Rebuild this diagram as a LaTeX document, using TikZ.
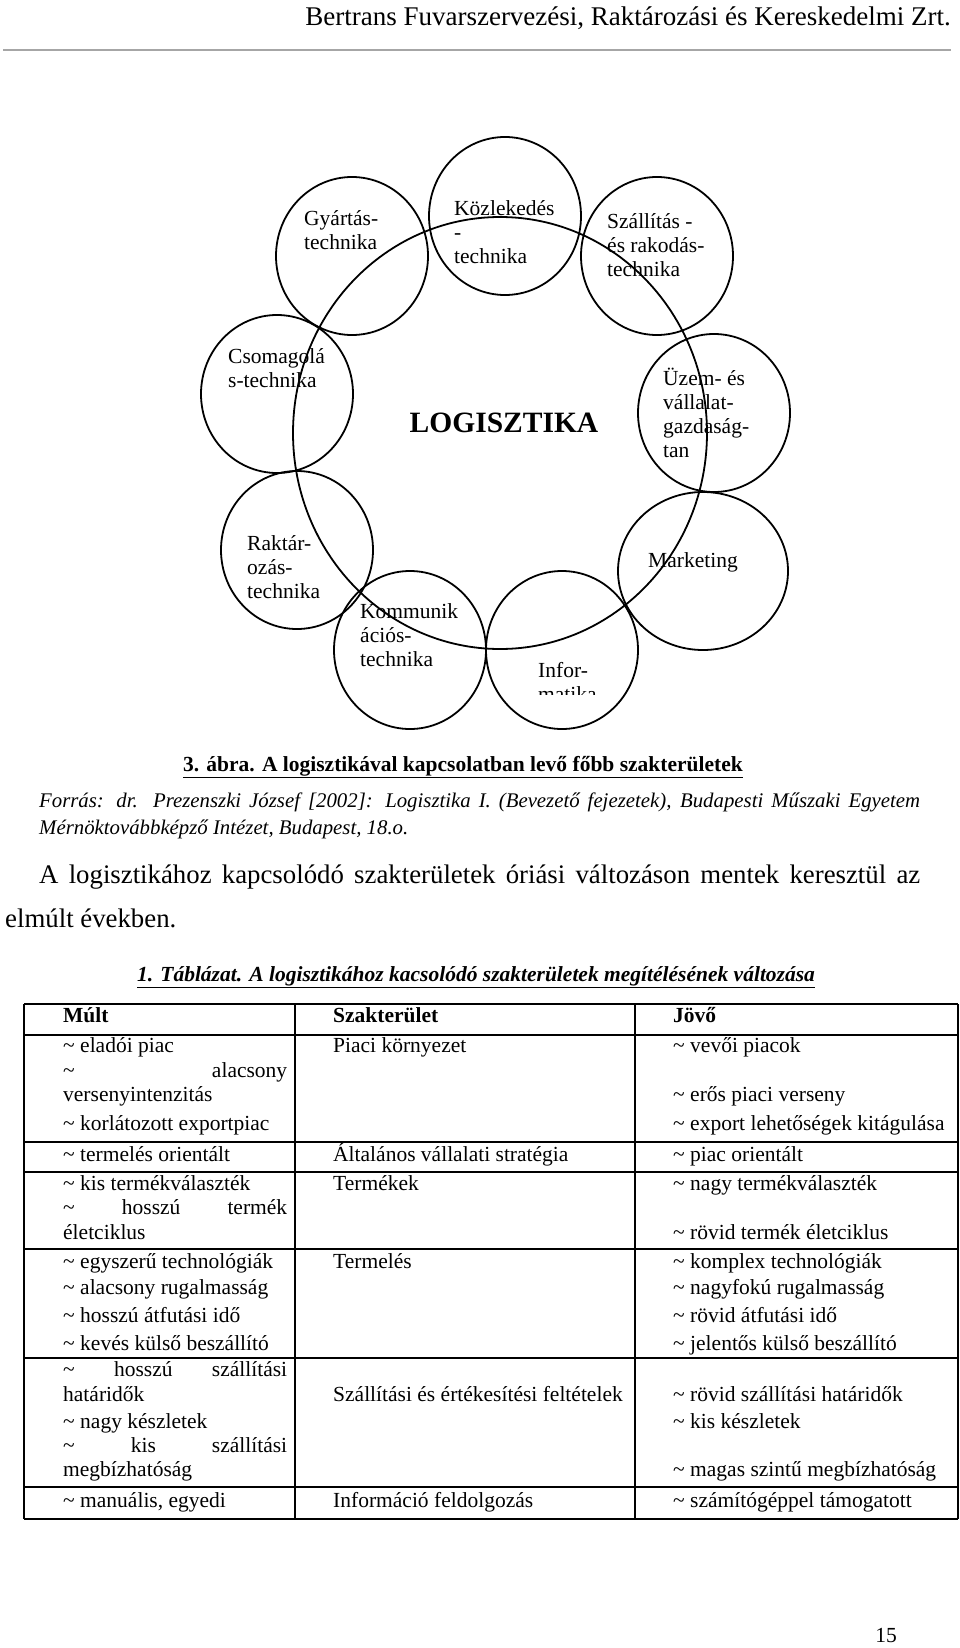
\documentclass[tikz,border=0pt]{standalone}
\usepackage{fontspec}
\setmainfont{Liberation Serif}
\usetikzlibrary{shapes.geometric}

\tikzset{
  ring/.style={draw, ellipse, line width=1.8pt, minimum width=152pt, minimum height=158pt, inner sep=0pt},
  ringtext/.style={anchor=north west, align=left, inner sep=0pt, font=\fontsize{21.5}{24}\selectfont},
  cell/.style={anchor=mid west, inner sep=0pt, font=\fontsize{21.5}{24}\selectfont},
  headcell/.style={cell, font=\fontsize{21.5}{24}\selectfont\bfseries},
  hline/.style={line width=2.4pt},
  vline/.style={line width=1.5pt},
}
\newcommand\tld{\textasciitilde}
\newcommand\jline[1]{\makebox[224pt][s]{#1}}

\begin{document}
\begin{tikzpicture}[x=1pt, y=-1pt]
  \useasboundingbox (0,0) rectangle (960,1648);

  \newcommand\tabL{24};
  \newcommand\tabA{295};
  \newcommand\tabB{635};
  \newcommand\tabR{958};
  \newcommand\colL{63};
  \newcommand\colM{333};
  \newcommand\colR{673};

  %% page head
  \node[anchor=base east, inner sep=0pt, font=\fontsize{27}{30}\selectfont] (firm) at (951,26)
    {Bertrans Fuvarszervezési, Raktározási és Kereskedelmi Zrt.};
  \coordinate (ruleL) at (3,50);
  \coordinate (ruleR) at (951,50);
  \draw[gray!70, line width=1.2pt] (ruleL) -- (ruleR);

  %% the rings
  \node[ring] (gyartas) at (352,256) {};
  \node[ring] (kozlek) at (505,216) {};
  \node[ring] (szall) at (657,256) {};
  \node[ring] (csomag) at (277,394) {};
  \node[ring] (uzem) at (714,413) {};
  \node[ring] (raktar) at (297,550) {};
  \node[ring] (kommun) at (410,650) {};
  \node[ring] (info) at (562,650) {};
  \node[ring, minimum width=170pt] (market) at (703,571) {};
  \node[ring, minimum width=414pt, minimum height=432pt] (logi) at (500,433) {};

  \node[ringtext] (tgyartas) at (304,210) {Gyártás-\\technika};
  \node[ringtext] (tkozlek) at (454,200) {Közlekedés\\-\\technika};
  \node[ringtext] (tszall) at (607,213) {Szállítás -\\és rakodás-\\technika};
  \node[ringtext] (tcsomag) at (228,348) {Csomagolá\\s-technika};
  \node[ringtext] (tuzem) at (663,368) {Üzem- és\\vállalat-\\gazdaság-\\tan};
  \node[ringtext] (traktar) at (247,535) {Raktár-\\ozás-\\technika};
  \node[ringtext] (tkommun) at (360,603) {Kommunik\\ációs-\\technika};
  \begin{scope}
    \clip (480,600) rectangle (640,694);
    \node[ringtext] (tinfo) at (538,662) {Infor-\\matika};
  \end{scope}
  \node[cell] (tmarket) at (648,565) {Marketing};
  \node[anchor=base, inner sep=0pt, font=\fontsize{29.5}{32}\selectfont\bfseries] (tlogi) at (504,432) {LOGISZTIKA};

  %% caption and source
  \node[anchor=mid, inner sep=0pt, font=\fontsize{21.5}{24}\selectfont\bfseries] (abra) at (463,769)
    {\underline{3. ábra. A logisztikával kapcsolatban levő főbb szakterületek}};
  \node[anchor=mid west, inner sep=0pt, font=\fontsize{20.8}{26}\selectfont\itshape] (forras1) at (39,805)
    {\makebox[881pt][s]{Forrás: dr. Prezenszki József [2002]: Logisztika I. (Bevezető fejezetek), Budapesti Műszaki Egyetem}};
  \node[anchor=mid west, inner sep=0pt, font=\fontsize{20.8}{26}\selectfont\itshape] (forras2) at (39,832)
    {Mérnöktovábbképző Intézet, Budapest, 18.o.};

  %% body text
  \node[anchor=mid west, inner sep=0pt, font=\fontsize{26.8}{30}\selectfont] (para1) at (39,881)
    {\makebox[881pt][s]{A logisztikához kapcsolódó szakterületek óriási változáson mentek keresztül az}};
  \node[anchor=mid west, inner sep=0pt, font=\fontsize{26.8}{30}\selectfont] (para2) at (5,925)
    {elmúlt években.};

  %% table title
  \node[anchor=mid, inner sep=0pt, font=\fontsize{21.5}{24}\selectfont\bfseries\itshape] (tabcim) at (476,979)
    {\underline{1. Táblázat. A logisztikához kacsolódó szakterületek megítélésének változása}};

  %% table grid
  \foreach \y in {1004,1035,1142,1172,1249,1358,1487,1519}
    \draw[hline] (\tabL,\y) -- (\tabR,\y);
  \foreach \x in {\tabL,\tabA,\tabB,\tabR}
    \draw[vline] (\x,1004) -- (\x,1519);

  %% table: past
  \node[headcell] (l0) at (\colL,1020) {Múlt};
  \node[cell] (l1) at (\colL,1050) {\tld{} eladói piac};
  \node[cell] (l2) at (\colL,1075) {\jline{\tld{} alacsony}};
  \node[cell] (l3) at (\colL,1099) {versenyintenzitás};
  \node[cell] (l4) at (\colL,1128) {\tld{} korlátozott exportpiac};
  \node[cell] (l5) at (\colL,1159) {\tld{} termelés orientált};
  \node[cell] (l6) at (\colL,1188) {\tld{} kis termékválaszték};
  \node[cell] (l7) at (\colL,1212) {\jline{\tld{} hosszú termék}};
  \node[cell] (l8) at (\colL,1237) {életciklus};
  \node[cell] (l9) at (\colL,1266) {\tld{} egyszerű technológiák};
  \node[cell] (l10) at (\colL,1292) {\tld{} alacsony rugalmasság};
  \node[cell] (l11) at (\colL,1320) {\tld{} hosszú átfutási idő};
  \node[cell] (l12) at (\colL,1348) {\tld{} kevés külső beszállító};
  \node[cell] (l13) at (\colL,1374) {\jline{\tld{} hosszú szállítási}};
  \node[cell] (l14) at (\colL,1399) {határidők};
  \node[cell] (l15) at (\colL,1426) {\tld{} nagy készletek};
  \node[cell] (l16) at (\colL,1450) {\jline{\tld{} kis szállítási}};
  \node[cell] (l17) at (\colL,1474) {megbízhatóság};
  \node[cell] (l18) at (\colL,1505) {\tld{} manuális, egyedi};

  %% table: field
  \node[headcell] (m0) at (\colM,1020) {Szakterület};
  \node[cell] (m1) at (\colM,1050) {Piaci környezet};
  \node[cell] (m2) at (\colM,1159) {Általános vállalati stratégia};
  \node[cell] (m3) at (\colM,1188) {Termékek};
  \node[cell] (m4) at (\colM,1266) {Termelés};
  \node[cell] (m5) at (\colM,1399) {Szállítási és értékesítési feltételek};
  \node[cell] (m6) at (\colM,1505) {Információ feldolgozás};

  %% table: future
  \node[headcell] (r0) at (\colR,1020) {Jövő};
  \node[cell] (r1) at (\colR,1050) {\tld{} vevői piacok};
  \node[cell] (r2) at (\colR,1099) {\tld{} erős piaci verseny};
  \node[cell] (r3) at (\colR,1128) {\tld{} export lehetőségek kitágulása};
  \node[cell] (r4) at (\colR,1159) {\tld{} piac orientált};
  \node[cell] (r5) at (\colR,1188) {\tld{} nagy termékválaszték};
  \node[cell] (r6) at (\colR,1237) {\tld{} rövid termék életciklus};
  \node[cell] (r7) at (\colR,1266) {\tld{} komplex technológiák};
  \node[cell] (r8) at (\colR,1292) {\tld{} nagyfokú rugalmasság};
  \node[cell] (r9) at (\colR,1320) {\tld{} rövid átfutási idő};
  \node[cell] (r10) at (\colR,1348) {\tld{} jelentős külső beszállító};
  \node[cell] (r11) at (\colR,1399) {\tld{} rövid szállítási határidők};
  \node[cell] (r12) at (\colR,1426) {\tld{} kis készletek};
  \node[cell] (r13) at (\colR,1474) {\tld{} magas szintű megbízhatóság};
  \node[cell] (r14) at (\colR,1505) {\tld{} számítógéppel támogatott};

  %% page number
  \node[anchor=mid, inner sep=0pt, font=\fontsize{21.5}{24}\selectfont] (oldal) at (886,1640) {15};

\end{tikzpicture}
\end{document}
